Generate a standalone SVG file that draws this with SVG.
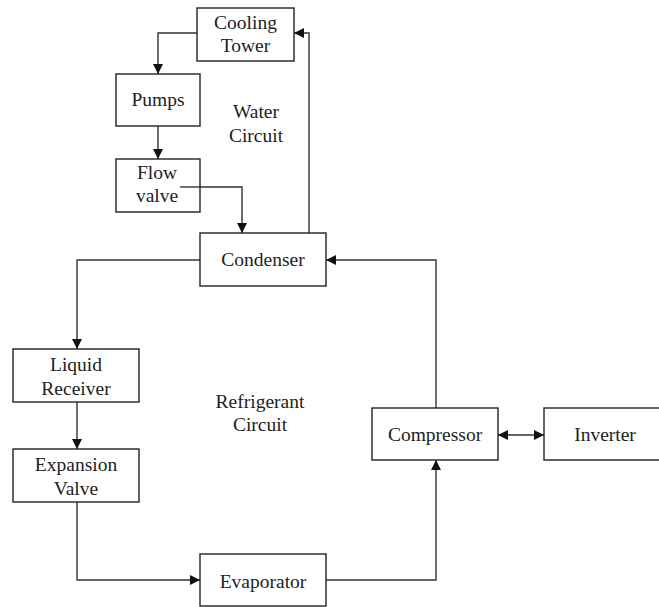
<svg xmlns="http://www.w3.org/2000/svg" width="659" height="607" viewBox="0 0 659 607">
<defs>
<style>
.box{fill:#fff;stroke:#222;stroke-width:1.4}
.ln{fill:none;stroke:#333;stroke-width:1.4}
text{font-family:"Liberation Serif","Times New Roman",serif;font-size:19.5px;fill:#222;text-anchor:middle}
</style>
<marker id="ah" viewBox="0 0 10 10" refX="10" refY="5" markerWidth="10" markerHeight="10" markerUnits="userSpaceOnUse" orient="auto-start-reverse">
<path d="M0,0 L10,5 L0,10 Z" fill="#111"/>
</marker>
</defs>
<rect width="659" height="607" fill="#fff"/>
<g id="connectors">
<path class="ln" d="M197,33 H158 V74" marker-end="url(#ah)"/>
<path class="ln" d="M158,126 V159" marker-end="url(#ah)"/>
<path class="ln" d="M180,187 H242 V233" marker-end="url(#ah)"/>
<path class="ln" d="M309,233 V33 H294" marker-end="url(#ah)"/>
<path class="ln" d="M200,260 H77 V349" marker-end="url(#ah)"/>
<path class="ln" d="M77,402 V449" marker-end="url(#ah)"/>
<path class="ln" d="M77,502 V580 H200" marker-end="url(#ah)"/>
<path class="ln" d="M326,580 H436 V460" marker-end="url(#ah)"/>
<path class="ln" d="M436,408 V260 H326" marker-end="url(#ah)"/>
<path class="ln" d="M498,435 H544" marker-start="url(#ah)" marker-end="url(#ah)"/>
</g>
<g id="cooling-tower"><rect class="box" x="197" y="8" width="97" height="53"/><text x="245.5" y="29">Cooling</text><text x="245.5" y="52">Tower</text></g>
<g id="pumps"><rect class="box" x="116" y="74" width="84" height="52"/><text x="158" y="106">Pumps</text></g>
<g id="flow-valve"><rect class="box" x="116" y="159" width="84" height="53"/><text x="157" y="179">Flow</text><text x="157" y="202">valve</text></g>
<path class="ln" d="M180,187 H200"/>
<g id="water-circuit"><text x="256" y="118">Water</text><text x="256" y="142">Circuit</text></g>
<g id="condenser"><rect class="box" x="200" y="233" width="126" height="53"/><text x="263" y="266">Condenser</text></g>
<g id="liquid-receiver"><rect class="box" x="13" y="349" width="126" height="53"/><text x="76" y="371">Liquid</text><text x="76" y="395">Receiver</text></g>
<g id="refrigerant-circuit"><text x="260" y="408">Refrigerant</text><text x="260" y="431">Circuit</text></g>
<g id="expansion-valve"><rect class="box" x="13" y="449" width="126" height="53"/><text x="76" y="471">Expansion</text><text x="76" y="495">Valve</text></g>
<g id="evaporator"><rect class="box" x="200" y="554" width="126" height="52"/><text x="263" y="588">Evaporator</text></g>
<g id="compressor"><rect class="box" x="372" y="408" width="126" height="52"/><text x="435" y="441">Compressor</text></g>
<g id="inverter"><rect class="box" x="544" y="408" width="130" height="52"/><text x="605" y="441">Inverter</text></g>
</svg>
